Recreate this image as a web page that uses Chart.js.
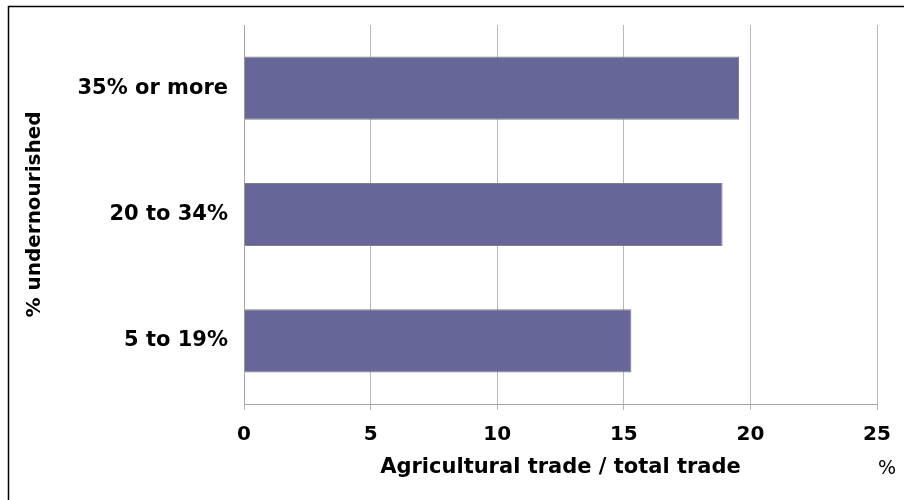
<!DOCTYPE html>
<html>
<head>
<meta charset="utf-8">
<script src="https://cdn.jsdelivr.net/npm/chart.js@4/dist/chart.umd.min.js"></script>
<style>
  html, body { margin: 0; padding: 0; background: #fff; }
  #wrap { position: relative; width: 904px; height: 500px; }
  #unit { position: absolute; left: 878px; top: 456px; font: 19px "DejaVu Sans", sans-serif; color: #000; }
</style>
</head>
<body>
<div id="wrap">
  <canvas id="c" width="904" height="500"></canvas>
  <div id="unit">%</div>
</div>
<script>
const categories = ['35% or more', '20 to 34%', '5 to 19%'];
const values = [19.55, 18.9, 15.3];
const xTickValues = [0, 5, 10, 15, 20, 25];
const xTitle = 'Agricultural trade / total trade';
const yTitle = '% undernourished';

const frame = {
  id: 'frame',
  beforeDraw(chart) {
    const ctx = chart.ctx;
    ctx.save();
    ctx.strokeStyle = '#000';
    ctx.lineWidth = 1.5;
    ctx.beginPath();
    ctx.moveTo(8.5, 500);
    ctx.lineTo(8.5, 6.5);
    ctx.lineTo(904, 6.5);
    ctx.stroke();
    ctx.restore();
  }
};

new Chart(document.getElementById('c'), {
  type: 'bar',
  data: {
    labels: categories,
    datasets: [{
      data: values,
      backgroundColor: '#666699',
      borderColor: '#808080',
      borderWidth: 1,
      barPercentage: 0.5,
      categoryPercentage: 1.0
    }]
  },
  plugins: [frame],
  options: {
    indexAxis: 'y',
    responsive: false,
    animation: false,
    layout: { padding: { left: 0, right: 27, top: 25, bottom: 0 } },
    plugins: { legend: { display: false }, tooltip: { enabled: false } },
    scales: {
      x: {
        min: 0, max: 25,
        afterBuildTicks(scale) { scale.ticks = xTickValues.map(v => ({ value: v })); },
        afterFit(scale) { scale.height = 96; },
        grid: { color: '#b8b8b8', lineWidth: 1, tickLength: 6, drawTicks: true },
        border: { display: true, color: '#a6a6a6', width: 1 },
        ticks: { color: '#000', font: { family: 'DejaVu Sans', size: 20, weight: 'bold' }, padding: 13 },
        title: { display: true, text: xTitle, color: '#000', font: { family: 'DejaVu Sans', size: 21, weight: 'bold', lineHeight: 1.2 }, padding: { top: 0, bottom: 20 } }
      },
      y: {
        afterFit(scale) { scale.width = 244; scale.paddingTop = 0; scale.paddingBottom = 0; },
        grid: { display: false, drawTicks: false },
        border: { display: true, color: '#a6a6a6', width: 1 },
        ticks: { color: '#000', font: { family: 'DejaVu Sans', size: 21, weight: 'bold' }, padding: 16 },
        title: { display: true, text: yTitle, color: '#000', font: { family: 'DejaVu Sans', size: 20, weight: 'bold', lineHeight: 1.2 }, padding: { top: 23, bottom: 0 } }
      }
    }
  }
});
</script>
</body>
</html>
